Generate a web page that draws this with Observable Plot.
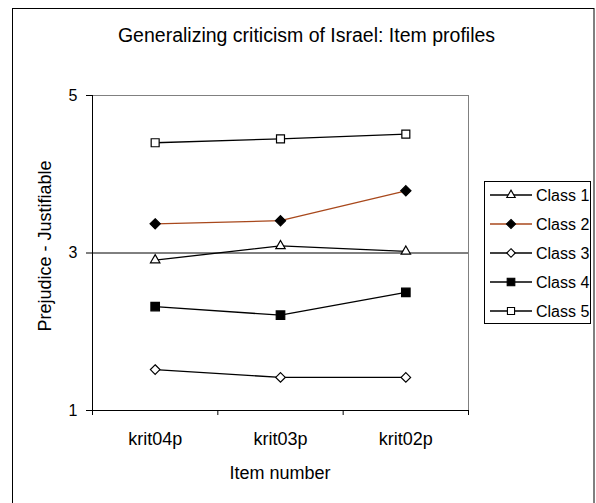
<!DOCTYPE html>
<html>
<head>
<meta charset="utf-8">
<script src="https://cdn.jsdelivr.net/npm/d3@7"></script>
<script src="https://cdn.jsdelivr.net/npm/@observablehq/plot@0.6"></script>
<style>
  html, body { margin: 0; padding: 0; background: #fff; }
  #wrap { position: relative; width: 596px; height: 503px; overflow: hidden; font-family: "Liberation Sans", Arial, sans-serif; }
  #wrap svg { position: absolute; left: 0; top: 0; }
</style>
</head>
<body>
<div id="wrap"></div>
<script>
// ---- data ----
const items = ["krit04p", "krit03p", "krit02p"];
const classes = ["Class 1", "Class 2", "Class 3", "Class 4", "Class 5"];
const class1 = [2.91, 3.09, 3.02];
const class2 = [3.37, 3.41, 3.79];
const class3 = [1.52, 1.42, 1.42];
const class4 = [2.32, 2.21, 2.50];
const class5 = [4.40, 4.45, 4.51];
const yTicks = [1, 3, 5];
const titleText = "Generalizing criticism of Israel: Item profiles";
const xTitle = "Item number";
const yTitle = "Prejudice - Justifiable";

// ---- styles ----
const series = [class1, class2, class3, class4, class5];
const styles = [
  {symbol: "triangle", r: 3.5, fill: "white", line: "black"},
  {symbol: "diamond2", r: 4.6, fill: "black", line: "#a8481c"},
  {symbol: "diamond2", r: 4.3, fill: "white", line: "black"},
  {symbol: "square", r: 4.8, fill: "black", line: "black"},
  {symbol: "square", r: 4.5, fill: "white", line: "black"}
];
const d3Symbols = {triangle: d3.symbolTriangle, diamond2: d3.symbolDiamond2, square: d3.symbolSquare};

const rows = [];
classes.forEach((c, ci) => series[ci].forEach((v, i) => rows.push({cls: c, ci, item: items[i], pos: i + 0.5, value: v})));

const yDomain = [yTicks[0], yTicks[yTicks.length - 1]];
const xDomain = [0, items.length];

const marks = [
  Plot.frame({stroke: "#808080"}),
  Plot.gridY({ticks: yTicks.filter(t => t > yDomain[0] && t < yDomain[1]), stroke: "black", strokeOpacity: 1}),
  Plot.ruleX([xDomain[0]], {stroke: "black"}),
  Plot.ruleY([yDomain[0]], {stroke: "black"}),
  Plot.axisY({ticks: yTicks, tickSize: 6, tickPadding: 9, fontSize: 16, label: null, tickFormat: d => String(d)}),
  Plot.axisX({ticks: d3.range(items.length + 1), tickSize: 5, tickFormat: () => "", label: null}),
  Plot.axisX({ticks: items.map((d, i) => i + 0.5), tickSize: 0, tickPadding: 22, fontSize: 18, label: null, tickFormat: t => items[Math.floor(t)]})
];
classes.forEach((c, ci) => {
  const data = rows.filter(r => r.ci === ci);
  const s = styles[ci];
  marks.push(Plot.line(data, {x: "pos", y: "value", stroke: s.line, strokeWidth: 1.3}));
});
classes.forEach((c, ci) => {
  const data = rows.filter(r => r.ci === ci);
  const s = styles[ci];
  marks.push(Plot.dot(data, {x: "pos", y: "value", symbol: () => s.symbol, r: s.r, fill: s.fill, stroke: "black", strokeWidth: 1.2}));
});

const chart = Plot.plot({
  width: 596,
  height: 503,
  marginLeft: 92,
  marginRight: 128,
  marginTop: 95,
  marginBottom: 93,
  x: {type: "linear", domain: xDomain},
  y: {type: "linear", domain: yDomain},
  style: {fontFamily: "Liberation Sans, Arial, sans-serif", color: "black", background: "white", overflow: "visible"},
  marks
});
const wrap = document.getElementById("wrap");
wrap.appendChild(chart);

// ---- overlay: border, titles, legend ----
const ov = d3.select(wrap).append("svg").attr("width", 596).attr("height", 503)
  .style("font-family", "Liberation Sans, Arial, sans-serif");
ov.append("rect").attr("x", 12.5).attr("y", 8.5).attr("width", 581.5).attr("height", 520)
  .attr("fill", "none").attr("stroke", "black").attr("stroke-width", 1);
ov.append("text").attr("x", 306.5).attr("y", 41.5).attr("text-anchor", "middle")
  .attr("font-size", 19.5).text(titleText);
ov.append("text").attr("x", 280).attr("y", 479).attr("text-anchor", "middle")
  .attr("font-size", 18).text(xTitle);
ov.append("text").attr("transform", "translate(51,246) rotate(-90)").attr("text-anchor", "middle")
  .attr("font-size", 18).text(yTitle);

const lg = ov.append("g");
lg.append("rect").attr("x", 484.5).attr("y", 181.5).attr("width", 106).attr("height", 142)
  .attr("fill", "white").attr("stroke", "black");
classes.forEach((c, ci) => {
  const s = styles[ci];
  const y = 195 + ci * 29;
  lg.append("line").attr("x1", 490).attr("x2", 532).attr("y1", y).attr("y2", y)
    .attr("stroke", s.line).attr("stroke-width", 1.3);
  const size = s.r * s.r * Math.PI * 0.8;
  lg.append("path").attr("transform", `translate(511,${y})`)
    .attr("d", d3.symbol(d3Symbols[s.symbol], size)())
    .attr("fill", s.fill).attr("stroke", "black").attr("stroke-width", 1.1);
  lg.append("text").attr("x", 536).attr("y", y + 5.7).attr("font-size", 16).text(c);
});
</script>
</body>
</html>
